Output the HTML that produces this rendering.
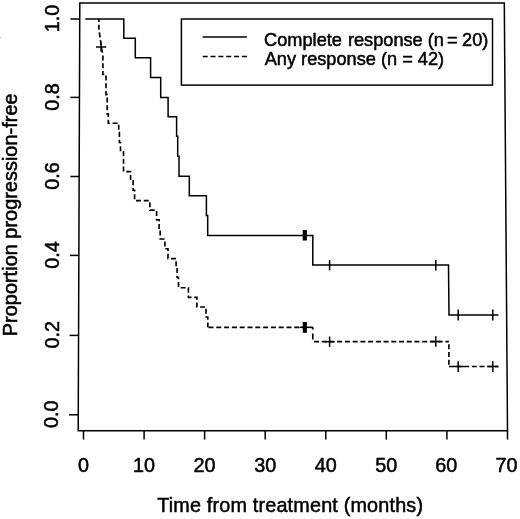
<!DOCTYPE html>
<html>
<head>
<meta charset="utf-8">
<title>Progression-free survival</title>
<style>
  html, body { margin: 0; padding: 0; background: #ffffff; }
  body { width: 520px; height: 519px; overflow: hidden; font-family: "Liberation Sans", sans-serif; }
  svg { display: block; will-change: transform; transform: translateZ(0); }
  text { font-family: "Liberation Sans", sans-serif; fill: #000; stroke: #000; stroke-width: 0.5px; }
  .ax { font-size: 19.8px; }
  .lg { font-size: 18.2px; }
  .ln { stroke: #000; stroke-width: 1.5; fill: none; stroke-linecap: butt; stroke-linejoin: miter; }
  .ds path { stroke-width: 1.65; }
</style>
</head>
<body>
<svg width="520" height="519" viewBox="0 0 520 519">
  <rect x="0" y="0" width="520" height="519" fill="#ffffff"/>

  <!-- faint scan specks -->
  <ellipse cx="0.4" cy="37.6" rx="1.3" ry="1.6" fill="#e4e4e4"/>
  <circle cx="3.3" cy="34.2" r="0.9" fill="#f1f1f1"/>

  <!-- plot frame (slightly trapezoidal, as in scan) -->
  <polygon class="ln" points="79.8,3.1 504.3,3.1 507.5,430.8 78.2,430.8"/>

  <!-- y ticks -->
  <g class="ln">
    <line x1="70.3" y1="19.0" x2="79.7" y2="19.0"/>
    <line x1="70.3" y1="97.4" x2="79.4" y2="97.4"/>
    <line x1="70.3" y1="176.5" x2="79.1" y2="176.5"/>
    <line x1="70.0" y1="255.4" x2="78.8" y2="255.4"/>
    <line x1="69.6" y1="335.4" x2="78.5" y2="335.4"/>
    <line x1="69.0" y1="414.8" x2="78.2" y2="414.8"/>
  </g>
  <!-- x ticks -->
  <g class="ln">
    <line x1="83.5" y1="430.8" x2="83.5" y2="439.6"/>
    <line x1="144.1" y1="430.8" x2="144.1" y2="439.6"/>
    <line x1="204.6" y1="430.8" x2="204.6" y2="439.6"/>
    <line x1="265.2" y1="430.8" x2="265.2" y2="439.6"/>
    <line x1="325.8" y1="430.8" x2="325.8" y2="439.6"/>
    <line x1="386.3" y1="430.8" x2="386.3" y2="439.6"/>
    <line x1="446.9" y1="430.8" x2="446.9" y2="439.6"/>
    <line x1="507.5" y1="430.8" x2="507.5" y2="439.6"/>
  </g>

  <!-- x tick labels -->
  <g class="ax" text-anchor="middle">
    <text x="83.5" y="471.6">0</text>
    <text x="144.1" y="471.6">10</text>
    <text x="204.6" y="471.6">20</text>
    <text x="265.2" y="471.6">30</text>
    <text x="325.8" y="471.6">40</text>
    <text x="386.3" y="471.6">50</text>
    <text x="446.3" y="471.6">60</text>
    <text x="506.6" y="471.6">70</text>
  </g>

  <!-- y tick labels (rotated) -->
  <g class="ax" text-anchor="middle">
    <text transform="translate(59.3,18.6) rotate(-90)">1.0</text>
    <text transform="translate(59.4,96.9) rotate(-90)">0.8</text>
    <text transform="translate(59.2,176.0) rotate(-90)">0.6</text>
    <text transform="translate(59.0,254.9) rotate(-90)">0.4</text>
    <text transform="translate(58.7,334.8) rotate(-90)">0.2</text>
    <text transform="translate(58.3,414.2) rotate(-90)">0.0</text>
  </g>

  <!-- axis titles -->
  <text class="ax" x="157.2" y="511.7" textLength="265.8" lengthAdjust="spacing">Time from treatment (months)</text>
  <text class="ax" transform="translate(17.2,336.2) rotate(-90)" textLength="242.7" lengthAdjust="spacing">Proportion progression-free</text>

  <!-- legend -->
  <rect class="ln" x="181.4" y="19.0" width="311.1" height="66.1"/>
  <line class="ln" x1="202.7" y1="36.9" x2="246.9" y2="36.9"/>
  <line class="ln" x1="202.7" y1="56.5" x2="246.9" y2="56.5" stroke-dasharray="5 2.84" stroke-width="1.65"/>
  <text class="lg" x="264.1" y="46.1">Complete<tspan dx="0.9"> response (n</tspan><tspan dx="-2.0"> =</tspan><tspan dx="-0.6"> 20)</tspan></text>
  <text class="lg" x="264.7" y="65.4">Any response (n = 42)</text>

  <!-- solid curve: complete response -->
  <path class="ln" d="M85.3,19.0 H123.8 V38.3 H135.3 V57.8 H150.6 V77.4 H160.7 V97.4 H168.1 V116.8 H176.6 V136.2 H177.7 V156.2 H179.0 V176.2 H189.3 V195.7 H206.4 V215.4 H207.7 V235.4 H312.8 V265.0 H448.5 L449.0,315.0 H498.4"/>
  <!-- censor marks on solid curve -->
  <g class="ln">
    <line x1="304.8" y1="230.0" x2="304.8" y2="240.5" stroke-width="4.2"/>
    <line x1="329.6" y1="260.0" x2="329.6" y2="270.4"/>
    <line x1="435.8" y1="260.0" x2="435.8" y2="270.5"/>
    <line x1="458.2" y1="309.4" x2="458.2" y2="320.4"/>
    <line x1="492.8" y1="309.4" x2="492.8" y2="320.4"/>
  </g>

  <!-- dashed curve: any response -->
  <g class="ln ds">
    <path stroke-dasharray="5 2.75" stroke-dashoffset="2" d="M98.9,19.0 V29.5 L100.6,41.0 L101.3,47.0 L102.9,54.5 V74.5 H106.0 V94.6 H107.2 V113.8 H108.3 V123.2 H118.7 V132.5 H119.4 V142.5 H120.5 V151.8 H123.5 V171.6 H130.6 V180.8 H133.1 V190.2 H134.6 V200.6 H149.9 V210.1 H156.6 V219.8 H159.1 V229.0 H160.2 V239.0 H164.9 V248.7 H168.0 V258.6 H176.1 V267.5 H177.1 V277.5 H178.5 V287.7 H188.4 V297.3 H196.9 V307.0 H206.0 V317.0 H207.8 V327.3"/>
    <path stroke-dasharray="5 2.8" stroke-dashoffset="7.1" d="M207.8,327.3 H312.8"/>
    <path stroke-dasharray="2.2 4 6 2.1" d="M312.8,327.3 V341.6"/>
    <path stroke-dasharray="5 2.73" stroke-dashoffset="6.53" d="M312.8,341.6 H448.9"/>
    <path stroke-dasharray="5 2.75" stroke-dashoffset="5" d="M448.9,341.6 V366.5"/>
    <path stroke-dasharray="5 2.65" d="M448.9,366.5 H498.4"/>
  </g>
  <!-- censor marks on dashed curve -->
  <g class="ln">
    <line x1="96.0" y1="47.0" x2="106.2" y2="47.0"/>
    <line x1="101.1" y1="42.4" x2="101.1" y2="51.8"/>
    <line x1="304.8" y1="322.0" x2="304.8" y2="332.8" stroke-width="4.2"/>
    <line x1="299.7" y1="327.3" x2="310.0" y2="327.3"/>
    <line x1="329.6" y1="336.5" x2="329.6" y2="347.0"/>
    <line x1="324.8" y1="341.7" x2="334.4" y2="341.7"/>
    <line x1="435.8" y1="336.3" x2="435.8" y2="346.8"/>
    <line x1="430.8" y1="341.5" x2="440.8" y2="341.5"/>
    <line x1="458.2" y1="361.2" x2="458.2" y2="372.0"/>
    <line x1="453.2" y1="366.5" x2="464.4" y2="366.5"/>
    <line x1="492.8" y1="361.2" x2="492.8" y2="372.0"/>
    <line x1="487.6" y1="366.5" x2="498.4" y2="366.5"/>
  </g>
</svg>
</body>
</html>
